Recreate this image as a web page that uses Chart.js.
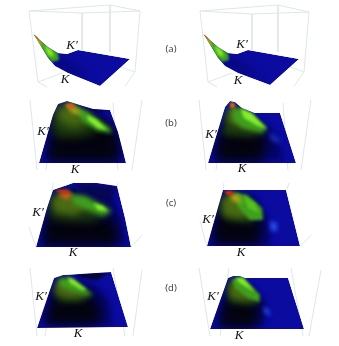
<!DOCTYPE html>
<html><head><meta charset="utf-8">
<style>html,body{margin:0;padding:0;background:#fff}canvas{display:block;filter:blur(.35px)}</style>
<script src="https://cdn.jsdelivr.net/npm/chart.js@4"></script></head>
<body><canvas id="c" width="339" height="346"></canvas>
<script>
const BASE='#0b0ba0',MID='#040468',DARK='#03030f',DGREEN='#1c3a0e',OLIVE='#4a6a14',GREEN='#3f9f1e',BRIGHT='#86ee2c',YEL='#b8a818',ORG='#c8641a',RED='#d82a10',LBLUE='#2a50f0',NAVY='#060650';
const WIRE='#dde7e9';
// wire-frame box edges, one list per panel
const wiresA=[[[29,11],[110,5],[140,11],[82,13],[29,11]],[[29,11],[38,82],[47,87]],[[140,11],[135,72],[125,86]],[[82,13],[82,50]],[[110,5],[110,52]],[[38,82],[62,73]],[[135,72],[112,64]]];
const wiresAr=[[[200,11],[278,5],[309,12],[252,14],[200,11]],[[200,11],[208,82],[217,87]],[[309,12],[304,72],[294,86]],[[252,14],[252,50]],[[278,5],[278,52]],[[208,82],[232,73]],[[304,72],[282,64]]];
const wiresB=[[[30,100],[37,170]],[[142,100],[132,170]],[[47,163],[46,170]],[[113,103],[118,170]]];
const wiresBr=[[[199,100],[206,170]],[[311,100],[301,170]],[[217,163],[216,170]],[[283,103],[288,170]]];
const wiresC=[[[29,227],[36,247]],[[142,235],[131,247]],[[53,183],[52,190]],[[118,183],[117,186]]];
const wiresCr=[[[200,221],[207,247]],[[311,235],[300,247]],[[224,183],[223,190]],[[289,183],[287,189]]];
const wiresD=[[[30,268],[37,336]],[[142,270],[133,336]],[[54,280],[45,336]],[[113,268],[125,336]]];
const wiresDr=[[[199,268],[210,336]],[[321,270],[309,336]],[[229,268],[220,336]],[[291,268],[303,336]]];
// surface outlines
const outA=[[33,34],[36,36],[40,40],[48,47],[58,53],[67,54],[78,50],[130,59],[100,86],[68,73],[55,66],[48,58],[42,48],[36,38]];
const outAr=[[203,34],[206,36],[210,40],[218,47],[228,53],[237,54],[248,50],[299,59],[270,85],[238,73],[225,66],[218,58],[212,48],[206,38]];
const outB=[[39,163],[126,163],[118,132],[110,110],[93,109],[80,105],[67,101],[58,104],[53,115]];
const outBr=[[208,163],[296,163],[280,113],[255,113],[242,108],[235,102],[230,101],[225,107]];
const outC=[[36,247],[131,247],[125,218],[117,186],[97,183],[73,183],[53,190],[47,208]];
const outCr=[[207,246],[300,246],[286,190],[223,190]];
const outD=[[37,328],[128,327],[111,272],[80,274],[63,275],[54,278]];
const outDr=[[210,329],[304,329],[288,278],[245,278],[240,276],[233,276],[228,278]];
// colour layers read from each surface: [colour, softness, polygon]
const layA=[['#06067a',4,[[50,62],[72,72],[90,78],[80,68],[60,56]]],[GREEN,1.3,[[33,34],[42,42],[58,53],[59,60],[52,62],[46,56],[38,43]]],[BRIGHT,1.6,[[44,45],[52,50],[54,57],[48,55]]],[YEL,1,[[33,33],[40,40],[44,47],[39,44]]],[ORG,.6,[[33,33],[37,36],[39,40],[35,37]]]];
const layAr=[['#06067a',4,[[220,62],[242,72],[260,78],[250,68],[230,56]]],[GREEN,1.3,[[203,34],[212,42],[228,53],[229,60],[222,62],[216,56],[208,43]]],[BRIGHT,1.6,[[214,45],[222,50],[224,57],[218,55]]],[YEL,1,[[203,33],[210,40],[214,47],[209,44]]],[ORG,.6,[[203,33],[207,36],[209,40],[205,37]]]];
const layB=[[MID,3,[[44,160],[122,160],[116,135],[108,118],[90,112],[70,105],[58,108],[52,125]]],[DARK,6,[[47,162],[120,162],[118,132],[105,122],[85,112],[62,108],[52,125]]],[DGREEN,4,[[55,108],[73,107],[97,132],[80,137],[58,137],[52,128]]],[OLIVE,4,[[58,107],[72,104],[88,123],[73,127],[58,120]]],[NAVY,1.5,[[83,107],[108,110],[102,113],[90,112]]],[GREEN,2,[[72,105],[87,111],[110,128],[112,133],[98,131],[83,122]]],[BRIGHT,1.5,[[87,115],[97,120],[107,130],[98,128],[88,120]]],[YEL,2,[[65,103],[75,107],[83,115],[72,113]]],[ORG,1.2,[[65,105],[72,103],[76,108],[69,109]]]];
const layBr=[[MID,3,[[214,160],[285,160],[278,140],[268,125],[250,116],[232,105],[226,115],[220,135]]],[DARK,6,[[216,162],[262,162],[268,136],[243,125],[225,122],[216,142]]],[DGREEN,3,[[223,135],[225,112],[242,110],[265,133],[250,137]]],[OLIVE,3,[[228,108],[238,108],[258,128],[240,127],[228,122]]],[GREEN,2,[[232,108],[243,110],[267,128],[262,133],[243,128],[233,120]]],[BRIGHT,1.6,[[240,108],[252,113],[267,129],[258,126],[244,118]]],[LBLUE,2.5,[[268,132],[275,137],[282,143],[273,140]]],[ORG,1,[[230,102],[235,103],[235,108],[230,108]]]];
const layC=[[MID,3,[[41,245],[126,245],[120,215],[112,195],[85,188],[55,192],[48,212]]],[NAVY,3,[[73,183],[117,186],[110,202],[87,195]]],[DARK,6,[[42,246],[118,246],[116,220],[87,212],[52,208],[45,221]]],[DGREEN,4,[[48,201],[58,190],[77,195],[110,211],[93,221],[67,221],[50,218]]],[OLIVE,3,[[52,200],[62,192],[90,205],[75,215],[55,212]]],[GREEN,2.5,[[70,195],[85,196],[112,211],[103,216],[87,210],[73,203]]],[BRIGHT,1.8,[[93,203],[103,206],[108,211],[98,210]]],[ORG,2.2,[[67,191],[73,195],[67,200],[58,195]]],[RED,1.3,[[55,190],[67,190],[70,193],[62,194]]],['#020210',.8,[[70,188],[78,191],[75,192]]]];
const layCr=[[MID,3,[[211,245],[270,245],[268,220],[255,195],[225,192],[217,215]]],[DARK,6,[[214,245],[258,245],[263,224],[240,208],[223,203],[213,225]]],[DGREEN,3,[[218,211],[225,193],[243,195],[262,213],[250,223],[227,221]]],[OLIVE,3,[[222,200],[232,193],[258,215],[240,218],[224,215]]],[GREEN,1.6,[[235,193],[247,195],[262,208],[263,220],[250,220],[237,206]]],['#58c020',1.8,[[244,196],[255,203],[259,213],[248,208]]],[YEL,2,[[230,193],[238,195],[242,203],[232,201]]],[RED,1.2,[[224,191],[232,191],[233,195],[227,195]]],[LBLUE,2.3,[[270,221],[277,223],[277,231],[271,231]]]];
const layD=[[MID,3,[[42,325],[112,325],[108,300],[95,285],[62,278],[50,292]]],[DARK,6,[[45,325],[100,325],[100,302],[87,295],[60,285],[50,302]]],[DGREEN,3,[[53,292],[60,278],[93,295],[80,302],[60,302]]],[OLIVE,3,[[56,284],[66,278],[88,296],[70,298],[56,294]]],['#050530',1.5,[[73,274],[110,272],[97,280],[83,278]]],[GREEN,2,[[60,278],[73,280],[93,295],[85,295],[70,290],[58,285]]],[BRIGHT,1.5,[[67,277],[73,279],[87,290],[82,290],[70,283]]]];
const layDr=[[MID,3,[[216,327],[262,327],[266,305],[250,285],[230,280],[222,300]]],[DARK,6,[[220,328],[255,328],[261,307],[248,296],[230,292],[222,308]]],[DGREEN,3,[[227,292],[230,280],[242,280],[260,302],[250,305],[230,303]]],[OLIVE,3,[[229,285],[236,279],[258,300],[240,300],[230,297]]],[GREEN,1.6,[[232,280],[242,277],[260,295],[259,302],[248,298],[235,288]]],[BRIGHT,1.5,[[235,278],[243,278],[255,292],[248,288],[240,283]]],[LBLUE,2.2,[[263,307],[268,309],[271,316],[265,313]]]];
const wireSets=[wiresA,wiresAr,wiresB,wiresBr,wiresC,wiresCr,wiresD,wiresDr];
const outlines=[outA,outAr,outB,outBr,outC,outCr,outD,outDr];
const layerSets=[layA,layAr,layB,layBr,layC,layCr,layD,layDr];
// labels
const primeLabels=[[72,46],[242,45],[43,132],[211,135],[38,213],[208,220],[41,297],[213,297]];
const kLabels=[[65,80],[238,81],[75,170],[242,169],[73,253],[241,253],[78,334],[239,336]];
const panelNames=['(a)','(b)','(c)','(d)'];
const panelPos=[[171,49],[171,123],[171,203],[171,288]];

const toPts=a=>a.map(p=>({x:p[0],y:p[1]}));
const datasets=[];
wireSets.forEach(set=>set.forEach(w=>datasets.push({data:toPts(w),showLine:true,borderColor:WIRE,borderWidth:1,pointRadius:0,tension:0})));
outlines.forEach((o,i)=>{
  datasets.push({data:toPts(o),showLine:false,pointRadius:0,surface:i,isBase:true,colour:BASE,soft:0});
  layerSets[i].forEach(l=>datasets.push({data:toPts(l[2]),showLine:false,pointRadius:0,surface:i,colour:l[0],soft:l[1]}));
});
datasets.reverse(); // Chart.js paints the last dataset first

function path(ctx,meta){ctx.beginPath();meta.data.forEach((p,i)=>i?ctx.lineTo(p.x,p.y):ctx.moveTo(p.x,p.y));ctx.closePath();}
const surfacePlugin={id:'surface',
  beforeDatasetDraw(chart,args){
    const d=chart.data.datasets[args.index];
    if(d.surface===undefined)return;
    const ctx=chart.ctx,meta=args.meta;
    const base=chart.getDatasetMeta(chart.data.datasets.findIndex(x=>x.surface===d.surface&&x.isBase));
    ctx.save();
    path(ctx,base);ctx.clip();
    if(d.soft)ctx.filter='blur('+d.soft+'px)';
    path(ctx,meta);ctx.fillStyle=d.colour;ctx.fill();
    ctx.restore();
  },
  afterDatasetsDraw(chart){
    const ctx=chart.ctx,sx=chart.scales.x,sy=chart.scales.y;
    ctx.save();ctx.textAlign='center';ctx.textBaseline='middle';ctx.fillStyle='#111';
    ctx.font='italic 13px "Liberation Serif"';
    primeLabels.forEach(p=>ctx.fillText("K\u2032",sx.getPixelForValue(p[0]),sy.getPixelForValue(p[1])));
    kLabels.forEach(p=>ctx.fillText("K",sx.getPixelForValue(p[0]),sy.getPixelForValue(p[1])));
    ctx.font='9.5px "Open Sans"';ctx.fillStyle='#333';
    panelNames.forEach((t,i)=>ctx.fillText(t,sx.getPixelForValue(panelPos[i][0]),sy.getPixelForValue(panelPos[i][1])));
    ctx.restore();
  }};
new Chart(document.getElementById('c'),{type:'scatter',data:{datasets},plugins:[surfacePlugin],
 options:{responsive:false,animation:false,layout:{padding:0},
  plugins:{legend:{display:false},tooltip:{enabled:false}},
  scales:{x:{type:'linear',min:0,max:339,display:false},y:{type:'linear',min:0,max:346,reverse:true,display:false}}}});
</script></body></html>
